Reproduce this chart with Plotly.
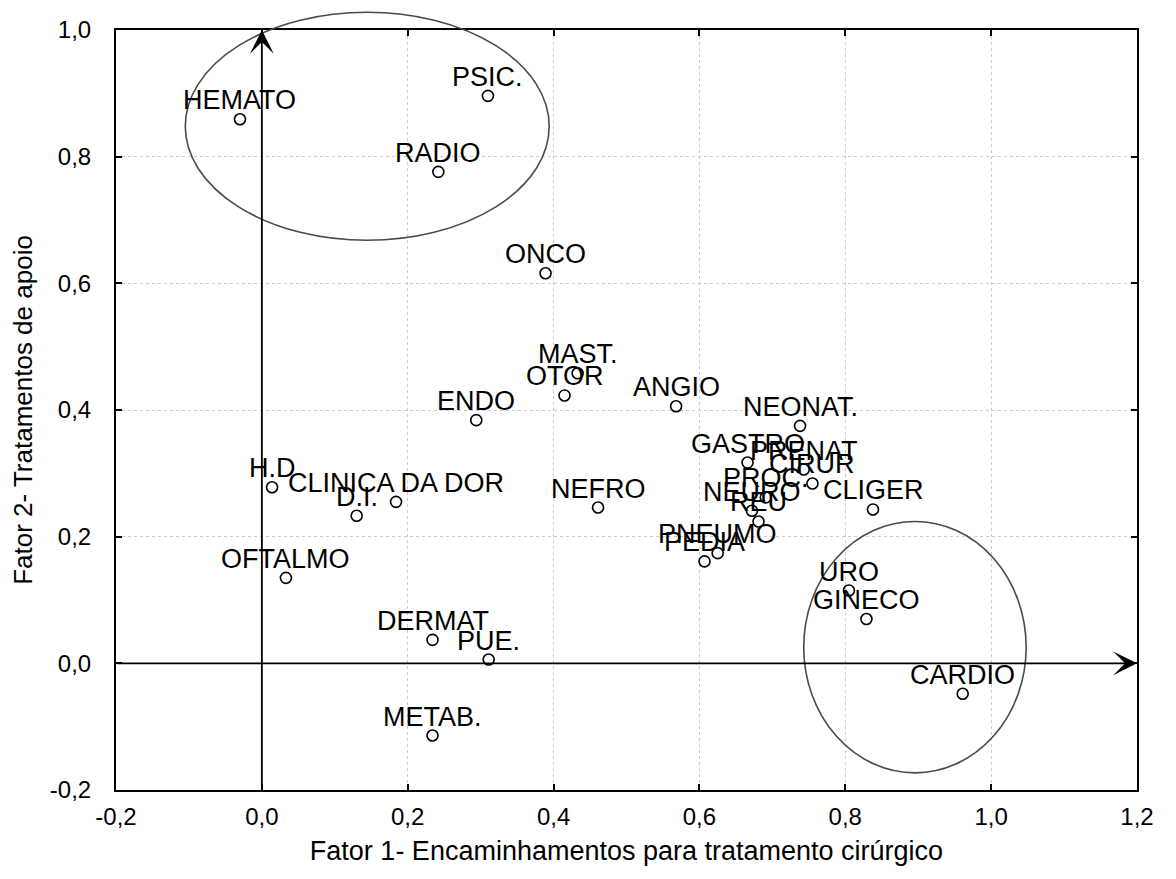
import plotly.graph_objects as go

# ---- data ----
labels = ["HEMATO", "PSIC.", "RADIO", "ONCO", "MAST.", "OTOR", "ENDO", "ANGIO",
          "NEONAT.", "GASTRO", "PRENAT", "CIRUR", "PROC.", "NEURO", "REU", "CLIGER",
          "PNEUMO", "PEDIA", "H.D", "CLINICA DA DOR", "D.I.", "NEFRO", "OFTALMO",
          "URO", "GINECO", "DERMAT", "PUE.", "CARDIO", "METAB."]
fator1 = [-0.030, 0.310, 0.242, 0.389, 0.433, 0.415, 0.294, 0.568,
          0.738, 0.666, 0.743, 0.755, 0.691, 0.672, 0.681, 0.838,
          0.625, 0.607, 0.014, 0.184, 0.130, 0.461, 0.033,
          0.805, 0.829, 0.234, 0.311, 0.961, 0.234]
fator2 = [0.859, 0.896, 0.776, 0.616, 0.458, 0.423, 0.384, 0.406,
          0.375, 0.317, 0.306, 0.284, 0.262, 0.241, 0.224, 0.243,
          0.174, 0.161, 0.278, 0.255, 0.233, 0.246, 0.135,
          0.115, 0.070, 0.037, 0.006, -0.048, -0.114]

x_tick_vals = [-0.2, 0.0, 0.2, 0.4, 0.6, 0.8, 1.0, 1.2]
x_tick_text = ["-0,2", "0,0", "0,2", "0,4", "0,6", "0,8", "1,0", "1,2"]
y_tick_vals = [-0.2, 0.0, 0.2, 0.4, 0.6, 0.8, 1.0]
y_tick_text = ["-0,2", "0,0", "0,2", "0,4", "0,6", "0,8", "1,0"]

x_title = "Fator 1- Encaminhamentos para tratamento cirúrgico"
y_title = "Fator 2- Tratamentos de apoio"

# highlighted groups (ellipses, in data units: x0, x1, y0, y1)
ellipse_top = (-0.105, 0.394, 0.668, 1.028)
ellipse_bottom = (0.743, 1.048, -0.173, 0.224)

X_RANGE = (-0.2, 1.2)
Y_RANGE = (-0.2, 1.0)

FONT = "Liberation Sans, Arial, sans-serif"

fig = go.Figure()
fig.add_trace(go.Scatter(
    x=fator1, y=fator2, mode="markers",
    marker=dict(symbol="circle-open", size=11, color="black", line=dict(width=1.6)),
    text=labels, cliponaxis=False, showlegend=False, hoverinfo="text"))

# point labels, centred just above each point
for lab, xv, yv in zip(labels, fator1, fator2):
    fig.add_annotation(x=xv, y=yv, xref="x", yref="y", text=lab, showarrow=False,
                       xanchor="center", yanchor="bottom", yshift=2,
                       font=dict(family=FONT, size=27, color="black"))


def to_paper_x(v):
    return (v - X_RANGE[0]) / (X_RANGE[1] - X_RANGE[0])


def to_paper_y(v):
    return (v - Y_RANGE[0]) / (Y_RANGE[1] - Y_RANGE[0])


for (ex0, ex1, ey0, ey1) in (ellipse_top, ellipse_bottom):
    fig.add_shape(type="circle", xref="paper", yref="paper",
                  x0=to_paper_x(ex0), x1=to_paper_x(ex1),
                  y0=to_paper_y(ey0), y1=to_paper_y(ey1),
                  line=dict(color="#4a4a4a", width=1.6), layer="above")

# axes arrows through the origin
fig.add_annotation(x=X_RANGE[1], y=0, ax=X_RANGE[0], ay=0, xref="x", yref="y",
                   axref="x", ayref="y", text="", showarrow=True,
                   arrowhead=3, arrowsize=2.2, arrowwidth=1.8, arrowcolor="black")
fig.add_annotation(x=0, y=Y_RANGE[1], ax=0, ay=Y_RANGE[0], xref="x", yref="y",
                   axref="x", ayref="y", text="", showarrow=True,
                   arrowhead=3, arrowsize=2.2, arrowwidth=1.8, arrowcolor="black")

axis_common = dict(showline=True, linecolor="black", linewidth=2, mirror="ticks",
                   ticks="inside", ticklen=6, tickwidth=1.5, tickcolor="black",
                   showgrid=True, gridcolor="#cccccc", griddash="dot", gridwidth=1,
                   zeroline=False,
                   tickfont=dict(family=FONT, size=24, color="black"))

fig.update_xaxes(range=list(X_RANGE), tickvals=x_tick_vals, ticktext=x_tick_text,
                 ticklabelstandoff=4,
                 title=dict(text=x_title, font=dict(family=FONT, size=27, color="black"),
                            standoff=12),
                 **axis_common)
fig.update_yaxes(range=list(Y_RANGE), tickvals=y_tick_vals, ticktext=y_tick_text,
                 ticklabelstandoff=18,
                 title=dict(text=y_title, font=dict(family=FONT, size=26, color="black"),
                            standoff=12),
                 **axis_common)

fig.update_layout(width=1176, height=879, paper_bgcolor="white", plot_bgcolor="white",
                  margin=dict(l=108, r=47, t=22, b=97, autoexpand=False),
                  font=dict(family=FONT, color="black"))

fig.write_html("out.html")
